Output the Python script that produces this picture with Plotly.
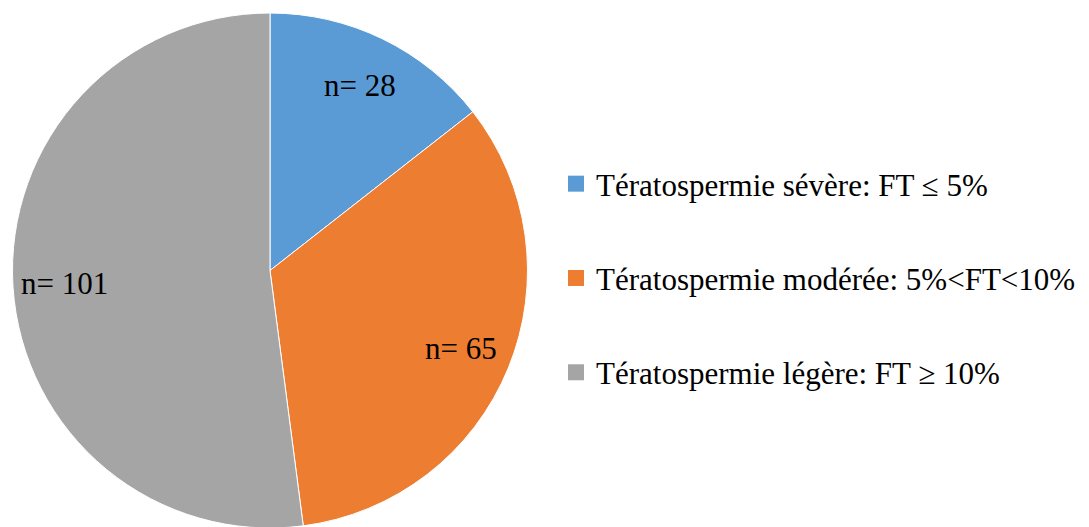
import math
import plotly.graph_objects as go

categories = [
    "Tératospermie sévère: FT ≤ 5%",
    "Tératospermie modérée: 5%<FT<10%",
    "Tératospermie légère: FT ≥ 10%",
]
counts = [28, 65, 101]
colors = ["#5B9BD5", "#ED7D31", "#A5A5A5"]
label_texts = [f"n= {c}" for c in counts]

W, H = 1089, 527
FONT = "Liberation Serif"
FS = 31

# layout geometry (page body adds an 8px offset)
T_M, B_M = 5, 7
R = (H - T_M - B_M) / 2.0
CX = 262.0
CY = T_M + R

fig = go.Figure()
fig.add_trace(go.Pie(
    labels=categories,
    values=counts,
    textinfo="none",
    marker=dict(colors=colors, line=dict(color="white", width=1)),
    sort=False,
    direction="clockwise",
    rotation=0,
    showlegend=False,
    hoverinfo="label+value",
    domain=dict(x=[(CX - R) / W, (CX + R) / W], y=[0, 1]),
))

# data labels placed along each slice's bisector
total = sum(counts)
cum = 0
for txt, c in zip(label_texts, counts):
    mid = (cum + c / 2) / total * 2 * math.pi
    cum += c
    px = CX + 0.8 * R * math.sin(mid)
    py = CY - 0.8 * R * math.cos(mid)
    fig.add_annotation(
        x=px / W, y=(H - B_M - py) / (H - T_M - B_M),
        xref="paper", yref="paper", xanchor="center", yanchor="middle",
        text=txt, showarrow=False,
        font=dict(family=FONT, size=FS, color="black"),
    )

for i, (cat, col) in enumerate(zip(categories, colors)):
    fig.add_trace(go.Scatter(
        x=[None], y=[None], mode="markers", name=cat,
        legendgroup=f"g{i}",
        marker=dict(symbol="square", size=16, color=col, line=dict(width=0)),
        hoverinfo="skip",
    ))

fig.update_layout(
    width=W, height=H,
    margin=dict(l=0, r=0, t=T_M, b=B_M),
    paper_bgcolor="white", plot_bgcolor="white",
    xaxis=dict(visible=False), yaxis=dict(visible=False),
    legend=dict(
        x=548 / W, xanchor="left", y=0.4854, yanchor="middle",
        font=dict(family=FONT, size=FS, color="black"),
        tracegroupgap=51, traceorder="grouped",
        bgcolor="rgba(0,0,0,0)",
    ),
)
fig.write_html("out.html")
